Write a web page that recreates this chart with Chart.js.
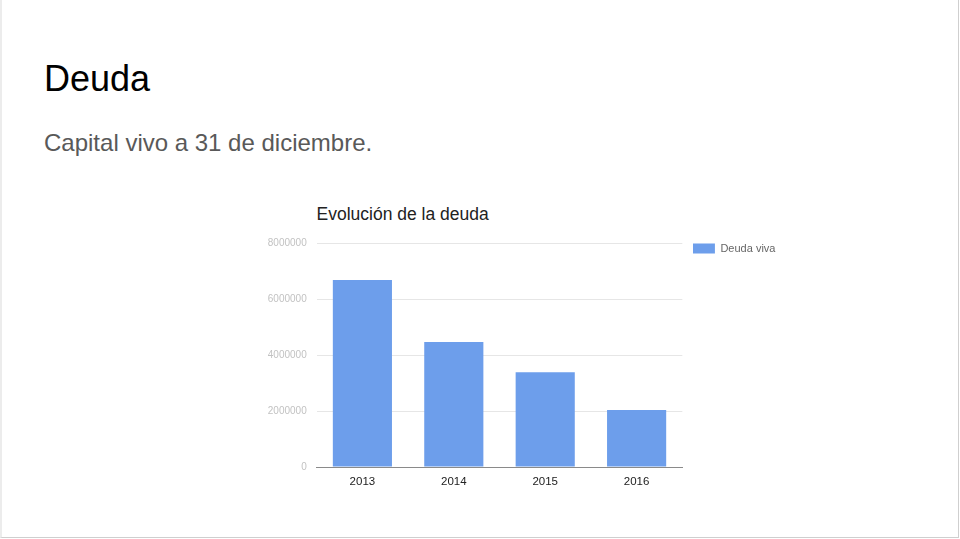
<!DOCTYPE html>
<html>
<head>
<meta charset="utf-8">
<script src="https://cdn.jsdelivr.net/npm/chart.js@4.4.1/dist/chart.umd.min.js"></script>
<style>
  html, body { margin: 0; padding: 0; background: #ffffff; width: 960px; height: 539px; overflow: hidden; }
  #slide { position: absolute; left: 0; top: 0; width: 956px; height: 537px; background: #fff;
           border-left: 2px solid #ececec; border-right: 1px solid #cfcfcf; border-bottom: 1px solid #cfcfcf; }
  .t { position: absolute; font-family: "Liberation Sans", Arial, sans-serif; line-height: 1; white-space: nowrap; }
  #h1 { left: 44px; top: 60.5px; font-size: 36px; color: #000; }
  #sub { left: 44px; top: 131.4px; font-size: 24px; color: #595959; }
  #ctitle { left: 316.5px; top: 206.2px; font-size: 17.5px; color: #222; }
  #wrap { position: absolute; left: 260px; top: 195px; width: 530px; height: 305px; }
</style>
</head>
<body>
<div id="slide"></div>
<div class="t" id="h1">Deuda</div>
<div class="t" id="sub">Capital vivo a 31 de diciembre.</div>
<div class="t" id="ctitle">Evolución de la deuda</div>
<div id="wrap"><canvas id="c"></canvas></div>
<script>
const categories = ["2013", "2014", "2015", "2016"];
const seriesLabel = "Deuda viva";
const deudaViva = [6680000, 4460000, 3380000, 2040000];
const yTicks = [0, 2000000, 4000000, 6000000, 8000000];

const FONT = '"Liberation Sans", Arial, sans-serif';
const ctx = document.getElementById('c');
new Chart(ctx, {
  type: 'bar',
  data: {
    labels: categories,
    datasets: [{
      label: seriesLabel,
      data: deudaViva,
      backgroundColor: '#6d9eeb',
      borderWidth: 0,
      barPercentage: 0.647,
      categoryPercentage: 1.0
    }]
  },
  options: {
    responsive: true,
    maintainAspectRatio: false,
    animation: false,
    devicePixelRatio: 1,
    layout: { padding: { top: 48, left: 0, right: 10.5, bottom: 0 } },
    plugins: {
      title: { display: false },
      tooltip: { enabled: false },
      legend: {
        position: 'right',
        align: 'start',
        labels: {
          boxWidth: 22,
          boxHeight: 10,
          padding: 0,
          color: '#666',
          font: { family: FONT, size: 11 }
        }
      }
    },
    scales: {
      x: {
        grid: { display: false, drawTicks: false },
        border: { display: true, color: '#8a8a8a', width: 1 },
        ticks: { color: '#222', padding: 8, font: { family: FONT, size: 11.5 } },
        afterFit: (s) => { s.height = 33; }
      },
      y: {
        min: 0,
        max: 8000000,
        afterBuildTicks: (s) => { s.ticks = yTicks.map(v => ({ value: v })); },
        grid: { color: '#e6e6e6', drawTicks: false },
        border: { display: false },
        ticks: {
          color: '#c2c2c2', padding: 10, font: { family: FONT, size: 10 },
          callback: (v) => String(v)
        },
        afterFit: (s) => { s.width = 56.7; }
      },
      gap: {
        type: 'linear',
        position: 'right',
        display: true,
        grid: { display: false, drawTicks: false },
        border: { display: false },
        ticks: { display: false },
        afterFit: (s) => { s.width = 10.6; }
      }
    }
  }
});
</script>
</body>
</html>
